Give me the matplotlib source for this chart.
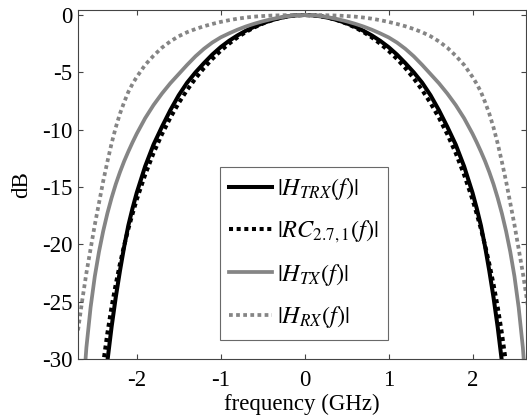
import numpy as np
import matplotlib
matplotlib.use('Agg')
import matplotlib.pyplot as plt

plt.rcParams['font.family'] = ['Liberation Serif', 'DejaVu Serif']
plt.rcParams['mathtext.fontset'] = 'stix'
plt.rcParams['axes.unicode_minus'] = False

# frequency (GHz), positive half; curves are symmetric about 0
freq = [0.0, 0.1, 0.2, 0.3, 0.4, 0.5, 0.6, 0.7, 0.8, 0.9, 1.0, 1.1, 1.2, 1.3,
        1.4, 1.5, 1.6, 1.7, 1.8, 1.9, 2.0, 2.05, 2.1, 2.15, 2.2, 2.25, 2.3,
        2.35, 2.4, 2.45, 2.5, 2.55, 2.6, 2.65, 2.7]

h_trx = [0.0, -0.03, -0.12, -0.27, -0.47, -0.72, -1.02, -1.37, -1.78, -2.25,
         -2.8, -3.45, -4.2, -5.0, -5.9, -7.0, -8.3, -9.75, -11.3, -13.2,
         -15.5, -16.85, -18.35, -20.2, -22.3, -24.6, -27.2, -30.2, -33.5, -37.0,
         -41.0, -45.0, -50.0, -55.0, -60.0]

rc = [0.0, -0.03, -0.12, -0.27, -0.48, -0.75, -1.08, -1.48, -1.95, -2.5,
      -3.12, -3.83, -4.63, -5.53, -6.54, -7.68, -8.96, -10.4, -12.04, -13.93,
      -16.09, -17.33, -18.64, -20.09, -21.7, -23.48, -25.47, -27.77, -30.41,
      -33.56, -37.4, -42.4, -49.4, -55.0, -60.0]

h_tx = [0.0, -0.03, -0.1, -0.22, -0.37, -0.55, -0.76, -1.0, -1.28, -1.6,
        -1.95, -2.4, -2.95, -3.6, -4.35, -5.15, -5.95, -6.85, -7.85, -9.0,
        -10.35, -11.1, -11.9, -12.75, -13.7, -14.75, -15.95, -17.3, -18.85, -20.65,
        -22.8, -25.5, -29.0, -34.0, -41.0]

h_rx = [0.0, 0.0, -0.01, -0.03, -0.05, -0.09, -0.14, -0.22, -0.32, -0.45,
        -0.6, -0.78, -0.98, -1.22, -1.5, -1.85, -2.3, -2.85, -3.55, -4.35,
        -5.4, -6.0, -6.7, -7.6, -8.6, -9.8, -11.2, -12.8, -14.5, -16.4,
        -18.3, -20.4, -22.5, -24.9, -27.5]

labels = [r'$|H_{TRX}(f)|$', r'$|RC_{2.7,1}(f)|$', r'$|H_{TX}(f)|$', r'$|H_{RX}(f)|$']


def mirror(f, v):
    f = np.array(f)
    v = np.array(v)
    return np.concatenate([-f[::-1], f[1:]]), np.concatenate([v[::-1], v[1:]])


fig = plt.figure(figsize=(5.27, 4.17), dpi=100)
ax = fig.add_axes([0.148, 0.139, 0.851, 0.836])

gray = '#858585'
x, y = mirror(freq, h_trx)
ax.plot(x, y, color='black', lw=2.9, label=labels[0])
x, y = mirror(freq, rc)
ax.plot(x, y, color='black', lw=2.9, linestyle=(0, (1, 0.9)), label=labels[1])
x, y = mirror(freq, h_tx)
ax.plot(x, y, color=gray, lw=2.7, label=labels[2])
x, y = mirror(freq, h_rx)
ax.plot(x, y, color=gray, lw=2.7, linestyle=(0, (1, 0.9)), label=labels[3])

ax.set_xlim(-2.70, 2.643)
ax.set_ylim(-30, 0.4)
ax.set_xticks([-2, -1, 0, 1, 2])
ax.set_yticks([0, -5, -10, -15, -20, -25, -30])
ax.tick_params(direction='in', top=True, right=True, length=3.5, width=0.8,
               color='#444444', labelsize=16.5)
ax.tick_params(axis='x', pad=8)
ax.tick_params(axis='y', pad=4)
for s in ax.spines.values():
    s.set_color('#444444')
    s.set_linewidth(0.8)

ax.set_xlabel('frequency (GHz)', fontsize=16.5, labelpad=2)
ax.set_ylabel('dB', fontsize=16.5, labelpad=7)

leg = ax.legend(loc='lower left', bbox_to_anchor=(0.316, 0.0545), borderaxespad=0,
                fontsize=17.5, frameon=True, fancybox=False, handlelength=1.75,
                handletextpad=0.2, labelspacing=0.68, borderpad=0.4)
leg.get_frame().set_edgecolor('#444444')
leg.get_frame().set_linewidth(0.8)

fig.savefig('out.png', dpi=100)
